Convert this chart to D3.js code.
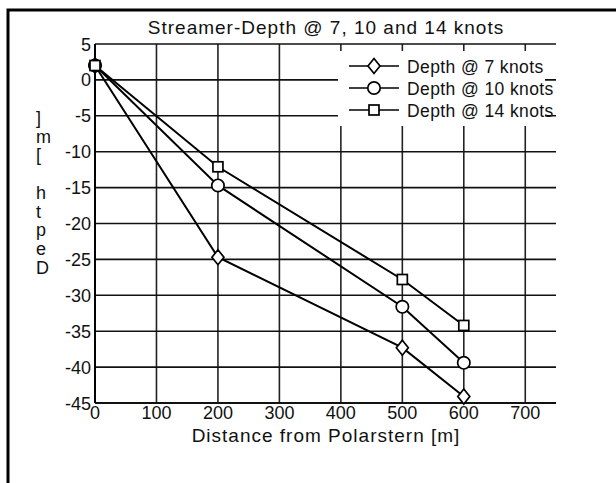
<!DOCTYPE html>
<html>
<head>
<meta charset="utf-8">
<script src="https://cdn.jsdelivr.net/npm/d3@7"></script>
<style>
  html, body { margin: 0; padding: 0; background: #fff; }
  svg { display: block; }
  text { font-family: "Liberation Sans", Arial, sans-serif; fill: #111; }
</style>
</head>
<body>
<svg id="chart" width="616" height="483"></svg>
<script>
// Streamer depth measured at several offsets behind the ship
const distances = [0, 200, 500, 600];
const depth7 = [2, -24.7, -37.3, -44.1];
const depth10 = [2, -14.7, -31.6, -39.4];
const depth14 = [2, -12.1, -27.8, -34.2];
const seriesNames = ["Depth @ 7 knots", "Depth @ 10 knots", "Depth @ 14 knots"];
const xTicks = [0, 100, 200, 300, 400, 500, 600, 700];
const yTicks = [5, 0, -5, -10, -15, -20, -25, -30, -35, -40, -45];
const titleText = "Streamer-Depth @ 7, 10 and 14 knots";
const xLabel = "Distance from Polarstern [m]";
const yLabel = "Depth [m]";

const svg = d3.select("#chart");
const x = d3.scaleLinear().domain([0, 750]).range([95, 556]);
const y = d3.scaleLinear().domain([-45, 5]).range([403, 44]);

// outer frame
svg.append("path")
  .attr("d", "M8,490 L8,10 L620,10")
  .attr("fill", "none").attr("stroke", "#000").attr("stroke-width", 3);

// grid
const grid = svg.append("g");
grid.selectAll(".vg").data(xTicks.filter(d => d > 0)).join("line")
  .attr("x1", d => x(d)).attr("x2", d => x(d))
  .attr("y1", y(5)).attr("y2", y(-45))
  .attr("stroke", "#222").attr("stroke-width", 1.6);
grid.selectAll(".hg").data(yTicks).join("line")
  .attr("x1", x(0)).attr("x2", x(750))
  .attr("y1", d => y(d)).attr("y2", d => y(d))
  .attr("stroke", "#111").attr("stroke-width", d => d === -45 ? 2 : 1.6);

// left axis line
svg.append("line")
  .attr("x1", x(0)).attr("x2", x(0)).attr("y1", y(5)).attr("y2", y(-45))
  .attr("stroke", "#000").attr("stroke-width", 2);

// tick labels
svg.append("g").selectAll("text").data(yTicks).join("text")
  .attr("x", 91).attr("y", d => y(d) + 6.5)
  .attr("text-anchor", "end").attr("font-size", 18)
  .text(d => d);
svg.append("g").selectAll("text").data(xTicks).join("text")
  .attr("x", d => x(d)).attr("y", 419)
  .attr("text-anchor", "middle").attr("font-size", 18)
  .text(d => d);

// title and axis labels
svg.append("text").attr("x", 326).attr("y", 34)
  .attr("text-anchor", "middle").attr("font-size", 19)
  .attr("letter-spacing", 1).text(titleText);
svg.append("text").attr("x", 326).attr("y", 442)
  .attr("text-anchor", "middle").attr("font-size", 19)
  .attr("letter-spacing", 1).text(xLabel);

// y label: one character per row, read from bottom to top
const yChars = Array.from(yLabel).reverse();
svg.append("g").selectAll("text").data(yChars).join("text")
  .attr("x", 36).attr("y", (d, i) => 124 + i * 18.7)
  .attr("font-size", 18)
  .text(d => d);

// series
const series = [
  { name: seriesNames[0], values: depth7, shape: "diamond" },
  { name: seriesNames[1], values: depth10, shape: "circle" },
  { name: seriesNames[2], values: depth14, shape: "square" }
];

function marker(sel, shape) {
  if (shape === "diamond") {
    sel.append("path").attr("d", "M0,-7.5 L6,0 L0,7.5 L-6,0 Z");
  } else if (shape === "circle") {
    sel.append("circle").attr("r", 6.2);
  } else {
    sel.append("rect").attr("x", -5).attr("y", -5).attr("width", 10).attr("height", 10);
  }
  sel.selectAll("path,circle,rect")
    .attr("fill", "#fff").attr("stroke", "#000").attr("stroke-width", 1.7);
}

const line = d3.line().x(d => x(d[0])).y(d => y(d[1]));
series.forEach(s => {
  const pts = distances.map((d, i) => [d, s.values[i]]);
  svg.append("path").datum(pts).attr("d", line)
    .attr("fill", "none").attr("stroke", "#000").attr("stroke-width", 2);
});
series.forEach(s => {
  distances.forEach((d, i) => {
    const g = svg.append("g").attr("transform", `translate(${x(d)},${y(s.values[i])})`);
    marker(g, s.shape);
  });
});

// legend
const legend = svg.append("g");
legend.append("rect").attr("x", 338).attr("y", 51).attr("width", 207).attr("height", 75)
  .attr("fill", "#fff");
series.forEach((s, i) => {
  const cy = 66 + i * 22;
  legend.append("line").attr("x1", 349).attr("x2", 399).attr("y1", cy).attr("y2", cy)
    .attr("stroke", "#000").attr("stroke-width", 1.6);
  const g = legend.append("g").attr("transform", `translate(374,${cy})`);
  marker(g, s.shape);
  legend.append("text").attr("x", 407).attr("y", cy + 6.5)
    .attr("font-size", 17.5).attr("letter-spacing", 0.4).text(s.name);
});
</script>
</body>
</html>
